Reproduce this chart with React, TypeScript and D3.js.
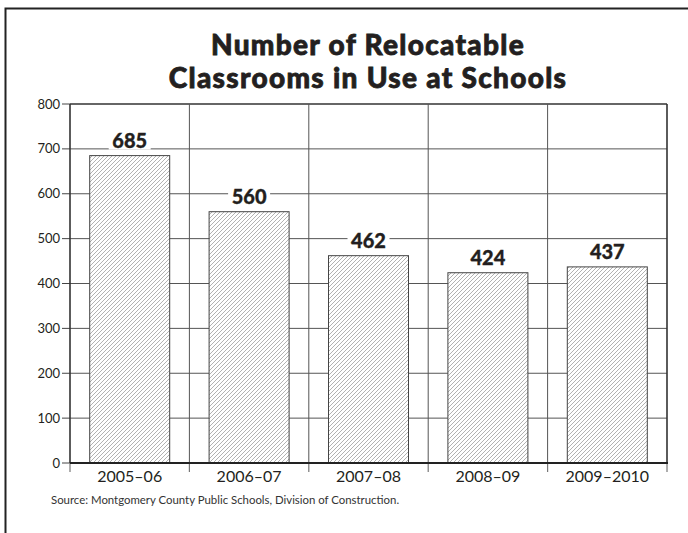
import React from "react";
import * as d3 from "d3";

const categories = ["2005–06", "2006–07", "2007–08", "2008–09", "2009–2010"];
const values = [685, 560, 462, 424, 437];
const yTicks = [0, 100, 200, 300, 400, 500, 600, 700, 800];
const titleLines = ["Number of Relocatable", "Classrooms in Use at Schools"];
const source = "Source: Montgomery County Public Schools, Division of Construction.";

const W = 688;
const H = 533;
const left = 70;
const right = 667;
const top = 104;
const bottom = 463;

export default function App() {
  const x = d3
    .scaleBand<string>()
    .domain(categories)
    .range([left, right])
    .paddingInner(0.33)
    .paddingOuter(0.165);
  const y = d3.scaleLinear().domain([0, 800]).range([bottom, top]);
  const step = x.step();
  const boundaries = d3.range(categories.length + 1).map((i) => left + i * step);
  const font = "Lato, 'Open Sans', sans-serif";
  const ink = "#231f20";

  return (
    <svg
      width={W}
      height={H}
      style={{ position: "absolute", left: 0, top: 0, display: "block", background: "#fff" }}
      fontFamily={font}
    >
      <defs>
        <pattern id="hatch" patternUnits="userSpaceOnUse" width="4" height="4">
          <rect width="4" height="4" fill="#fff" />
          <path d="M-1,1 L1,-1 M0,4 L4,0 M3,5 L5,3" stroke="#909090" strokeWidth="0.7" />
        </pattern>
      </defs>

      {/* outer frame */}
      <path d={`M5.5,${H} V8.5 H${W}`} fill="none" stroke="#222" strokeWidth={2} />

      {/* title */}
      {titleLines.map((t, i) => (
        <text
          key={t}
          x={368}
          y={55 + i * 33}
          textAnchor="middle"
          fontSize={28}
          fontWeight={900}
          letterSpacing={1.3}
          fill={ink}
          stroke={ink}
          strokeWidth={0.8}
        >
          {t}
        </text>
      ))}

      {/* horizontal gridlines */}
      {yTicks.map((t) => (
        <g key={t}>
          {t > 0 && (
            <line
              x1={left}
              x2={right}
              y1={y(t)}
              y2={y(t)}
              stroke={t === 800 ? "#333" : "#555"}
              strokeWidth={t === 800 ? 1.3 : 1}
            />
          )}
          <line x1={left - 8} x2={left} y1={y(t)} y2={y(t)} stroke="#444" strokeWidth={1} />
          <text
            x={left - 10}
            y={y(t)}
            dy="0.35em"
            textAnchor="end"
            fontSize={13}
            fill={ink}
          >
            {t}
          </text>
        </g>
      ))}

      {/* vertical gridlines */}
      {boundaries.map((bx, i) => (
        <g key={i}>
          <line
            x1={bx}
            x2={bx}
            y1={top}
            y2={bottom}
            stroke={i === 0 || i === boundaries.length - 1 ? "#333" : "#555"}
            strokeWidth={i === 0 || i === boundaries.length - 1 ? 1.6 : 1}
          />
          <line x1={bx} x2={bx} y1={bottom} y2={bottom + 9} stroke="#777" strokeWidth={1.2} />
        </g>
      ))}

      {/* bars */}
      {categories.map((c, i) => (
        <rect
          key={c}
          x={x(c)!}
          y={y(values[i])}
          width={x.bandwidth()}
          height={bottom - y(values[i])}
          fill="url(#hatch)"
          stroke="#444"
          strokeWidth={1}
        />
      ))}

      {/* value labels */}
      {categories.map((c, i) => {
        const cx = x(c)! + x.bandwidth() / 2;
        const by = y(values[i]) - 8;
        return (
          <g key={c}>
            <rect x={cx - 21} y={by - 17} width={42} height={19} fill="#fff" />
            <text
              x={cx}
              y={by}
              textAnchor="middle"
              fontSize={20}
              fontWeight={900}
              fill={ink}
              stroke={ink}
              strokeWidth={0.3}
            >
              {values[i]}
            </text>
          </g>
        );
      })}

      {/* bottom axis */}
      <line x1={left} x2={right + 1} y1={bottom} y2={bottom} stroke="#222" strokeWidth={2} />

      {/* x labels */}
      {categories.map((c) => (
        <text
          key={c}
          x={x(c)! + x.bandwidth() / 2}
          y={482}
          textAnchor="middle"
          fontSize={16}
          fill={ink}
        >
          {c}
        </text>
      ))}

      {/* source */}
      <text x={51} y={504} fontSize={11.4} fill="#333">
        {source}
      </text>
    </svg>
  );
}
